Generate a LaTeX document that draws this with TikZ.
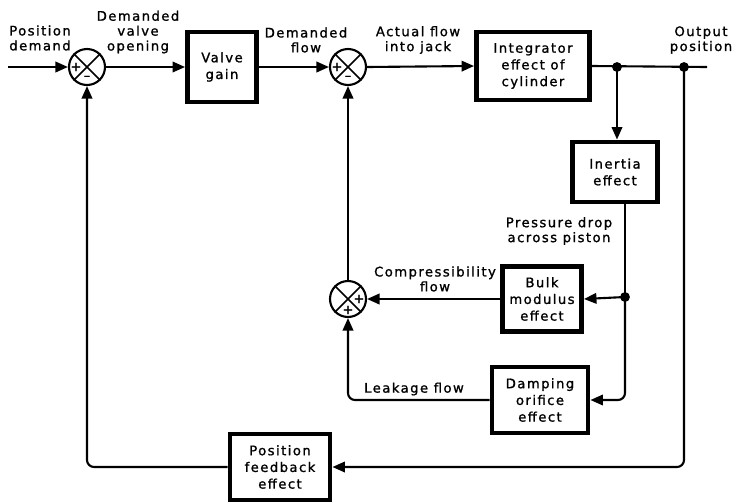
\documentclass[tikz,border=0pt]{standalone}
\usepackage{fontspec}
\usepackage{tikz}
\usetikzlibrary{arrows.meta}
\newfontfamily\diagfont{DejaVu Sans}[LetterSpace=11, FakeBold=1.2]

\begin{document}
\begin{tikzpicture}[x=0.02cm, y=-0.02cm,
  block/.style={draw, line width=2.8pt, align=center, inner sep=2pt, font=\diagfont\fontsize{7.5}{9.5}\selectfont},
  summer/.style={draw, circle, line width=1.2pt, minimum size=0.72cm, inner sep=0pt},
  xline/.style={line width=0.9pt},
  sign/.style={font=\diagfont\fontsize{7.5}{7.5}\selectfont, inner sep=0pt},
  lbl/.style={align=center, inner sep=0pt, font=\diagfont\fontsize{7.5}{8.5}\selectfont},
  wire/.style={line width=1.2pt},
  flow/.style={wire, -{Triangle[length=0.25cm, width=0.21cm]}},
]
\useasboundingbox (0,0) rectangle (734,501);

% forward path
\coordinate (in) at (8,67);
\node[summer] (sumpos) at (87,67) {};
\node[block, minimum width=1.38cm, minimum height=1.40cm] (valvegain) at (222,67) {Valve\\gain};
\node[summer] (sumflow) at (348,67) {};
\node[block, minimum width=2.26cm, minimum height=1.36cm] (integrator) at (533,66) {Integrator\\effect of\\cylinder};
\coordinate (tapinertia) at (617,67);
\coordinate (tapout) at (684,67);
\coordinate (out) at (707,67);

% inner loop blocks
\node[block, minimum width=1.70cm, minimum height=1.20cm] (inertia) at (615,172) {Inertia\\effect};
\coordinate (tappress) at (625,297);
\node[block, minimum width=1.58cm, minimum height=1.30cm] (bulk) at (542,299) {Bulk\\modulus\\effect};
\node[block, minimum width=1.92cm, minimum height=1.32cm] (damping) at (540,400) {Damping\\orifice\\effect};
\node[summer] (sumleak) at (348,299) {};

% feedback block
\node[block, minimum width=2.00cm, minimum height=1.32cm] (feedback) at (280,467) {Position\\feedback\\effect};

\foreach \s in {sumpos,sumflow,sumleak}
  \draw[xline] (\s.north west) -- (\s.south east) (\s.north east) -- (\s.south west);

% signs
\node[sign] (sumposa) at ([shift={(-11,0)}]sumpos) {+};
\node[sign] (sumposb) at ([shift={(0,11)}]sumpos) {–};
\node[sign] (sumflowa) at ([shift={(-11,0)}]sumflow) {+};
\node[sign] (sumflowb) at ([shift={(0,11)}]sumflow) {–};
\node[sign] (sumleaka) at ([shift={(11,0)}]sumleak) {+};
\node[sign] (sumleakb) at ([shift={(0,11)}]sumleak) {+};

% connectors
\draw[flow] (in) -- (sumpos.west);
\draw[flow] (sumpos.east) -- (valvegain.west);
\draw[flow] (valvegain.east) -- (sumflow.west);
\draw[flow] (sumflow.east) -- (integrator.west);
\draw[wire] (integrator.east) -- (out);
\draw[flow] (tapinertia) -- (tapinertia |- inertia.north);
\draw[wire] (inertia.south -| tappress) -- (tappress);
\draw[flow] (tappress) -- (bulk.east);
\draw[flow, rounded corners=4] (tappress) |- (damping.east);
\draw[flow] (bulk.west) -- (sumleak.east);
\draw[flow, rounded corners=4] (damping.west) -| (sumleak.south);
\draw[flow] (sumleak.north) -- (sumflow.south);
\draw[flow, rounded corners=4] (tapout) |- (feedback.east);
\draw[flow, rounded corners=4] (feedback.west) -| (sumpos.south);
\fill (tapinertia) circle (2.8pt) (tapout) circle (2.8pt) (tappress) circle (2.8pt);

% labels
\node[lbl] (lposdem) at (40,38) {Position\\demand};
\node[lbl] (lvalve) at (138,32) {Demanded\\valve\\opening};
\node[lbl] (ldemflow) at (306,40) {Demanded\\flow};
\node[lbl] (lactual) at (418,40) {Actual flow\\into jack};
\node[lbl] (loutpos) at (701,40) {Output\\position};
\node[lbl] (lpress) at (559,231) {Pressure drop\\across piston};
\node[lbl] (lcomp) at (435,279) {Compressibility\\flow};
\node[lbl] (lleak) at (414,389) {Leakage flow};
\end{tikzpicture}
\end{document}
